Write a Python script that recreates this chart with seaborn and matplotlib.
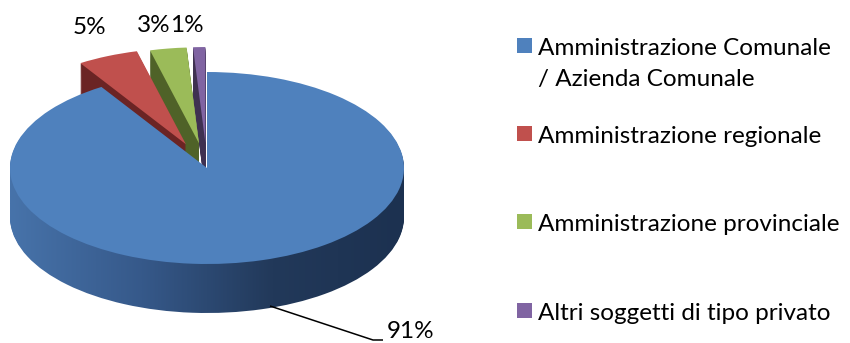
import numpy as np
import matplotlib
matplotlib.use("Agg")
import matplotlib.pyplot as plt
from matplotlib.colors import LinearSegmentedColormap
from matplotlib.patches import Rectangle
import seaborn as sns

# --- data -------------------------------------------------------------
categories = [
    "Amministrazione Comunale\n/ Azienda Comunale",
    "Amministrazione regionale",
    "Amministrazione provinciale",
    "Altri soggetti di tipo privato",
]
shares = [91, 5, 3, 1]
explode = [0.0, 0.27, 0.26, 0.26]

# --- style ------------------------------------------------------------
sns.set_theme(style="white")
plt.rcParams["font.family"] = ["Lato", "DejaVu Sans"]

top_colors = ["#4F81BD", "#C0504D", "#9BBB59", "#8064A2"]
side_colors = ["none", "#6B2424", "#4F6228", "#3F3151"]
side_cmap = LinearSegmentedColormap.from_list(
    "side", ["#4773AA", "#36598A", "#22395A", "#1C3150"])

W, H = 850, 343
fig = plt.figure(figsize=(W / 100, H / 100), dpi=100)

# pie geometry in pixels (y measured from the top)
cx, cy = 207, 168
rx, ry = 197, 96
depth = 49
ax_w = 480

ax = fig.add_axes([0, 0, ax_w / W, 1])
xlim = (-cx / rx, (ax_w - cx) / rx)
ylim = (-(H - cy) / ry, cy / ry)
dy = depth / ry

gradient = np.linspace(0, 1, 512).reshape(1, -1)

# extruded sides: stacked copies of the pie, lowest first
n_layers = 50
for k, t in enumerate(np.linspace(dy, 0, n_layers, endpoint=False)):
    z = 1 + k * 0.01
    wedges, _ = ax.pie(shares, explode=explode, colors=side_colors,
                       startangle=90, counterclock=False, center=(0, -t),
                       wedgeprops=dict(linewidth=0), frame=False)
    for w in wedges:
        w.set_zorder(z)
    im = ax.imshow(gradient, cmap=side_cmap, aspect="auto",
                   interpolation="bilinear",
                   extent=(-1.0, 1.0, ylim[0], ylim[1]), zorder=z + 0.001)
    im.set_clip_path(wedges[0])

# top faces
wedges, _ = ax.pie(shares, explode=explode, colors=top_colors,
                   startangle=90, counterclock=False, center=(0, 0),
                   wedgeprops=dict(linewidth=0), frame=False)
for w in wedges:
    w.set_zorder(5)

ax.set_aspect("auto")
ax.set_xlim(*xlim)
ax.set_ylim(*ylim)
ax.axis("off")

# --- overlay in pixel coordinates for labels and legend ---------------
ov = fig.add_axes([0, 0, 1, 1], zorder=10)
ov.set_xlim(0, W)
ov.set_ylim(H, 0)
ov.axis("off")
ov.patch.set_alpha(0)

fs = 17.5
label_pos = [(411, 331), (89, 27), (154, 25), (187, 25)]
for v, (lx, ly) in zip(shares, label_pos):
    ov.text(lx, ly, f"{v}%", ha="center", va="center", fontsize=fs,
            color="black")
ov.plot([270, 373, 383], [306, 340, 340], color="black", lw=1.1,
        solid_capstyle="butt")

# legend
leg_top, leg_step = 45.5, 88.2
for i, (cat, col) in enumerate(zip(categories, top_colors)):
    yc = leg_top + i * leg_step
    ov.add_patch(Rectangle((517, yc - 7.5), 15, 15, facecolor=col,
                           edgecolor="none"))
    for j, line in enumerate(cat.split("\n")):
        ov.text(538, yc + 9.5 + j * 31, line, ha="left", va="baseline",
                fontsize=fs, color="black")

fig.savefig("out.png", dpi=100, facecolor="white")
